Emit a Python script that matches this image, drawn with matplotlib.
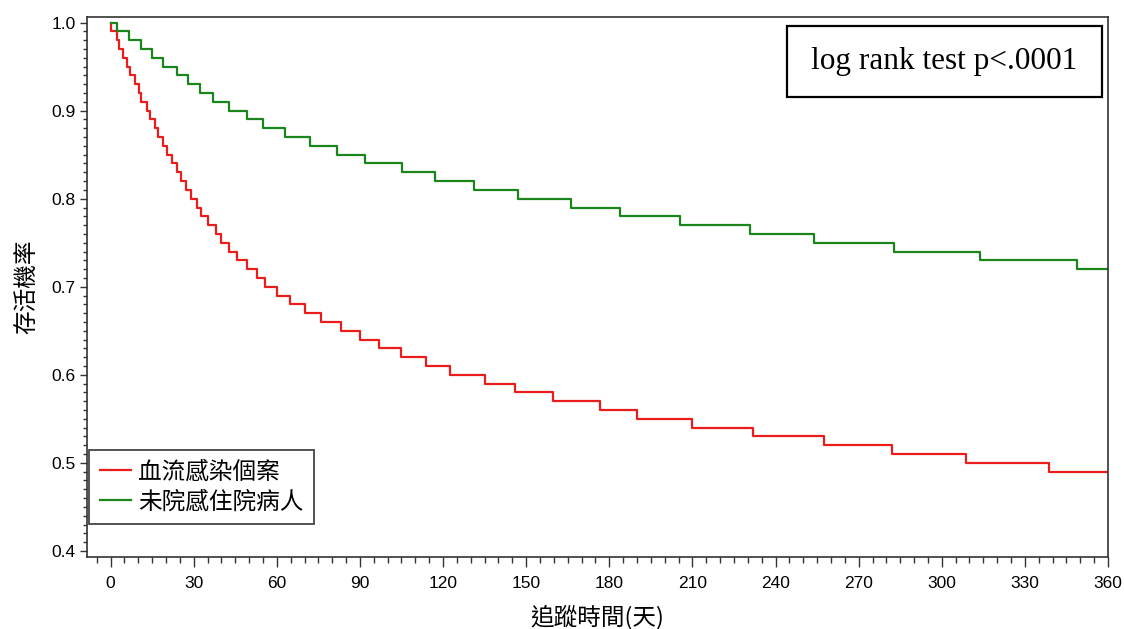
import numpy as np
import matplotlib
matplotlib.use("Agg")
import matplotlib.pyplot as plt
from matplotlib.patches import Rectangle
from matplotlib.ticker import MultipleLocator, FormatStrFormatter

plt.rcParams['font.family'] = ['Liberation Sans', 'Noto Sans CJK TC', 'DejaVu Sans']

# Kaplan-Meier step curves (time in days, survival)
bsi_days = [0, 0, 2.2, 3.0, 4.6, 6.0, 7.0, 9.0, 10.2, 11.1, 13.2, 14.4, 15.9, 17.1,
            19.0, 20.2, 22.2, 24.0, 25.3, 27.4, 29.2, 31.3, 32.7, 35.1, 38.2, 39.9,
            42.7, 45.7, 49.1, 52.9, 55.9, 59.9, 64.9, 70.0, 75.8, 83.0, 89.9, 97.0,
            105.0, 114.0, 122.6, 135.0, 145.8, 159.8, 176.8, 189.9, 209.9, 231.8,
            257.6, 281.9, 308.7, 338.7, 360]
bsi_surv = [1.00, 0.99, 0.98, 0.97, 0.96, 0.95, 0.94, 0.93, 0.92, 0.91, 0.90, 0.89,
            0.88, 0.87, 0.86, 0.85, 0.84, 0.83, 0.82, 0.81, 0.80, 0.79, 0.78, 0.77,
            0.76, 0.75, 0.74, 0.73, 0.72, 0.71, 0.70, 0.69, 0.68, 0.67, 0.66, 0.65,
            0.64, 0.63, 0.62, 0.61, 0.60, 0.59, 0.58, 0.57, 0.56, 0.55, 0.54, 0.53,
            0.52, 0.51, 0.50, 0.49, 0.49]

ctrl_days = [0, 2.5, 6.8, 11.0, 15.0, 19.1, 23.9, 28.1, 32.2, 36.9, 42.9, 49.1, 55.0,
             62.8, 71.9, 81.8, 92.0, 105.2, 117.0, 131.1, 147.0, 166.0, 183.7, 205.6,
             230.8, 253.7, 282.6, 313.9, 348.7, 360]
ctrl_surv = [1.00, 0.99, 0.98, 0.97, 0.96, 0.95, 0.94, 0.93, 0.92, 0.91, 0.90, 0.89,
             0.88, 0.87, 0.86, 0.85, 0.84, 0.83, 0.82, 0.81, 0.80, 0.79, 0.78, 0.77,
             0.76, 0.75, 0.74, 0.73, 0.72, 0.72]

labels = ["血流感染個案", "未院感住院病人"]
colors = ["#ea1c1c", "#1a851a"]
x_ticks = np.arange(0, 361, 30)
cjk = ["Noto Sans CJK TC", "DejaVu Sans"]

fig = plt.figure(figsize=(11.24, 6.29), dpi=100)
ax = fig.add_axes([0.0774, 0.115, 0.9084, 0.8575])

ax.step(bsi_days, bsi_surv, where="post", color=colors[0], lw=1.6, label=labels[0])
ax.step(ctrl_days, ctrl_surv, where="post", color=colors[1], lw=1.6, label=labels[1])

ax.set_xlim(-8.5, 360)
ax.set_ylim(0.3935, 1.006)
ax.set_xticks(x_ticks)
ax.xaxis.set_minor_locator(MultipleLocator(5))
ax.yaxis.set_major_locator(MultipleLocator(0.1))
ax.yaxis.set_minor_locator(MultipleLocator(0.01))
ax.yaxis.set_major_formatter(FormatStrFormatter("%.1f"))
ax.tick_params(axis="x", which="major", length=7, width=1, pad=7, labelsize=12.5, color="#333333")
ax.tick_params(axis="x", which="minor", length=4, width=1, color="#333333")
ax.tick_params(axis="y", which="major", length=5, width=1, pad=3, labelsize=12.5, color="#333333")
ax.tick_params(axis="y", which="minor", length=3, width=1, color="#333333")
for s in ax.spines.values():
    s.set_color("#333333")
    s.set_linewidth(1.2)

ax.set_xlabel("追蹤時間(天)", fontsize=17, family=cjk, labelpad=10)
ax.set_ylabel("存活機率", fontsize=17, family=cjk, labelpad=9)

leg = ax.legend(loc="lower left", bbox_to_anchor=(0.0023, 0.0606), borderaxespad=0,
                fancybox=False, framealpha=1, edgecolor="#444444", handlelength=1.3,
                handletextpad=0.3, labelspacing=0.3, borderpad=0.45,
                prop={"family": cjk, "size": 17})
leg.get_frame().set_linewidth(1.3)

ax.add_patch(Rectangle((0.6853, 0.8517), 0.3085, 0.1322, transform=ax.transAxes,
                       fill=False, edgecolor="black", lw=1.6, zorder=5))
ax.text(0.8393, 0.9177, "log rank test p<.0001", transform=ax.transAxes,
        ha="center", va="center", fontsize=22.5, family="Liberation Serif", zorder=6)

fig.savefig("out.png", dpi=100)
